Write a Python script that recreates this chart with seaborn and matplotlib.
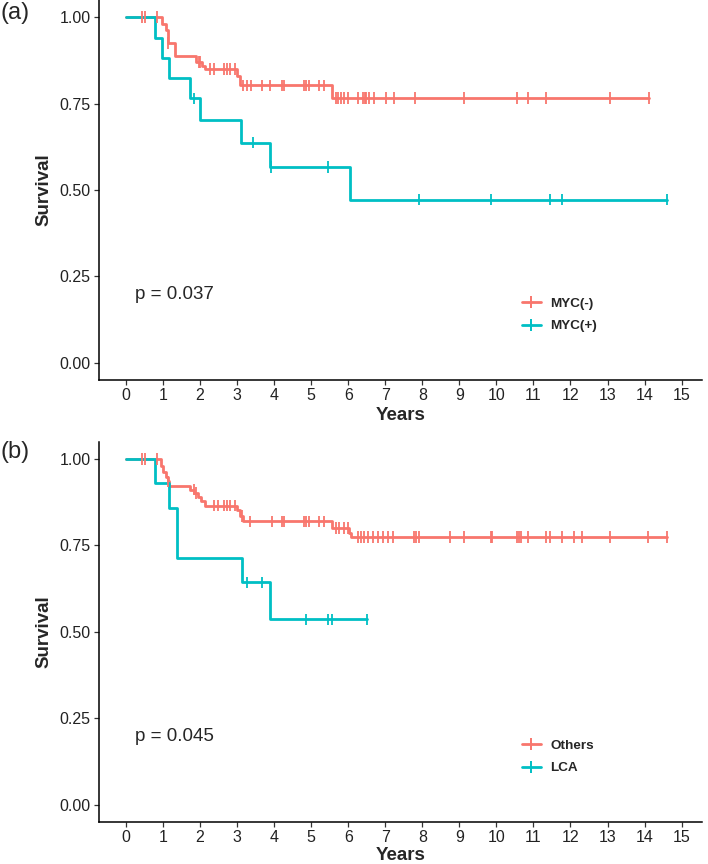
"""Kaplan-Meier style survival curves for MYC status and histology."""

import matplotlib

matplotlib.use("Agg")
import matplotlib.pyplot as plt
import numpy as np
import pandas as pd
import seaborn as sns
from matplotlib.lines import Line2D

# panel (a): MYC status
myc_neg_event_times = [0.97, 1.07, 1.12, 1.33, 1.90, 2.05, 2.12, 3.00, 3.08, 5.55]
myc_neg_surv = [0.980, 0.962, 0.926, 0.887, 0.870, 0.860, 0.850, 0.830, 0.803, 0.767]
myc_neg_censor_times = [
    0.42, 0.51, 0.83, 1.12, 1.96, 2.01, 2.26, 2.38, 2.64, 2.73, 2.80, 2.95,
    3.16, 3.27, 3.38, 3.68, 3.90, 4.22, 4.26, 4.81, 4.87, 4.94, 5.21, 5.35,
    5.66, 5.71, 5.80, 5.89, 5.98, 6.25, 6.39, 6.45, 6.49, 6.57, 6.70, 7.02,
    7.24, 7.79, 9.12, 10.56, 10.86, 11.33, 13.07, 14.11,
]
myc_pos_event_times = [0.77, 0.97, 1.17, 1.73, 1.99, 3.11, 3.90, 6.05]
myc_pos_surv = [0.941, 0.882, 0.824, 0.765, 0.702, 0.637, 0.566, 0.472]
myc_pos_censor_times = [1.84, 3.42, 3.92, 5.44, 7.92, 9.85, 11.46, 11.77, 14.60]

# panel (b): histology
others_event_times = [
    0.94, 1.01, 1.08, 1.12, 1.15, 1.72, 1.84, 1.93, 2.02, 2.14, 3.00, 3.09,
    3.16, 5.57, 6.03, 6.07,
]
others_surv = [
    0.978, 0.963, 0.949, 0.935, 0.922, 0.911, 0.901, 0.890, 0.877, 0.865,
    0.853, 0.834, 0.819, 0.800, 0.786, 0.774,
]
others_censor_times = [
    0.42, 0.51, 0.83, 1.12, 1.83, 1.90, 2.37, 2.48, 2.64, 2.73, 2.82, 2.95,
    3.13, 3.36, 3.95, 4.22, 4.26, 4.81, 4.85, 4.94, 5.21, 5.35, 5.66, 5.75,
    5.89, 5.98, 6.25, 6.34, 6.43, 6.52, 6.66, 6.79, 6.93, 7.06, 7.20, 7.77,
    7.83, 7.90, 8.76, 9.12, 9.85, 9.89, 10.56, 10.61, 10.66, 10.86, 11.33,
    11.46, 11.76, 12.10, 12.30, 13.07, 14.09, 14.60,
]
lca_event_times = [0.79, 1.17, 1.37, 3.12, 3.89]
lca_surv = [0.929, 0.857, 0.714, 0.643, 0.536]
lca_censor_times = [3.27, 3.68, 4.87, 5.44, 5.57, 6.50]

year_ticks = list(range(0, 16))
surv_ticks = [0.0, 0.25, 0.5, 0.75, 1.0]

RED = "#F8766D"
TEAL = "#00BFC4"

sns.set_theme(style="ticks")
plt.rcParams["font.family"] = ["Liberation Sans", "DejaVu Sans"]


def km_frames(event_times, surv, censor_times, group):
    """Return step points and censor points for one survival curve."""
    times = [0.0] + list(event_times) + [max(censor_times)]
    values = [1.0] + list(surv) + [surv[-1]]
    steps = pd.DataFrame({"time": times, "surv": values, "group": group})
    idx = np.searchsorted(event_times, censor_times, side="right")
    cens_surv = np.concatenate(([1.0], surv))[idx]
    cens = pd.DataFrame({"time": censor_times, "surv": cens_surv, "group": group})
    return steps, cens


def plot_panel(ax, curves, labels, p_text, xlabelpad=3):
    """Draw one survival panel."""
    frames = [km_frames(*c, lab) for c, lab in zip(curves, labels)]
    steps = pd.concat([f[0] for f in frames], ignore_index=True)
    cens = pd.concat([f[1] for f in frames], ignore_index=True)
    palette = [RED, TEAL]

    sns.lineplot(
        data=steps, x="time", y="surv", hue="group", hue_order=labels,
        palette=palette, drawstyle="steps-post", estimator=None, sort=False,
        linewidth=2.0, legend=False, ax=ax,
    )
    sns.scatterplot(
        data=cens, x="time", y="surv", hue="group", hue_order=labels,
        palette=palette, marker="|", s=70, linewidth=1.3, legend=False,
        zorder=3, ax=ax,
    )

    ax.set_xlim(-0.73, 15.55)
    ax.set_ylim(-0.05, 1.05)
    ax.set_xticks(year_ticks)
    ax.set_yticks(surv_ticks)
    ax.set_yticklabels([f"{v:.2f}" for v in surv_ticks])
    ax.tick_params(labelsize=11.5, length=3.5, width=0.9, color="#333333",
                   labelcolor="#222222", pad=2.5)
    ax.set_xlabel("Years", fontsize=13.5, fontweight="bold", labelpad=xlabelpad)
    ax.set_ylabel("Survival", fontsize=13.5, fontweight="bold", labelpad=5)
    for side in ["left", "bottom"]:
        ax.spines[side].set_linewidth(1.1)
        ax.spines[side].set_color("black")
    sns.despine(ax=ax)

    ax.text(0.24, 0.197, p_text, fontsize=13.5, ha="left", va="center")

    handles = [
        Line2D([0], [0], color=col, lw=2.0, marker="|", markersize=9, mew=1.4)
        for col in palette
    ]
    ax.legend(
        handles, labels, loc="upper left", bbox_to_anchor=(0.69, 0.235),
        frameon=False, borderpad=0, handlelength=1.4, handletextpad=0.7,
        labelspacing=0.75, prop={"size": 9.7, "weight": "bold"},
    )


fig = plt.figure(figsize=(7.08, 8.64), dpi=100)
ax_a = fig.add_axes([0.1398, 0.5602, 0.8517, 0.4398])
ax_b = fig.add_axes([0.1398, 0.0486, 0.8517, 0.4403])

plot_panel(
    ax_a,
    [(myc_neg_event_times, myc_neg_surv, myc_neg_censor_times),
     (myc_pos_event_times, myc_pos_surv, myc_pos_censor_times)],
    ["MYC(-)", "MYC(+)"],
    "p = 0.037",
)
plot_panel(
    ax_b,
    [(others_event_times, others_surv, others_censor_times),
     (lca_event_times, lca_surv, lca_censor_times)],
    ["Others", "LCA"],
    "p = 0.045",
    xlabelpad=1,
)

fig.text(0.0, 0.985, "(a)", fontsize=17, ha="left", va="center")
fig.text(0.0, 0.477, "(b)", fontsize=17, ha="left", va="center")

fig.savefig("out.png", dpi=100)
